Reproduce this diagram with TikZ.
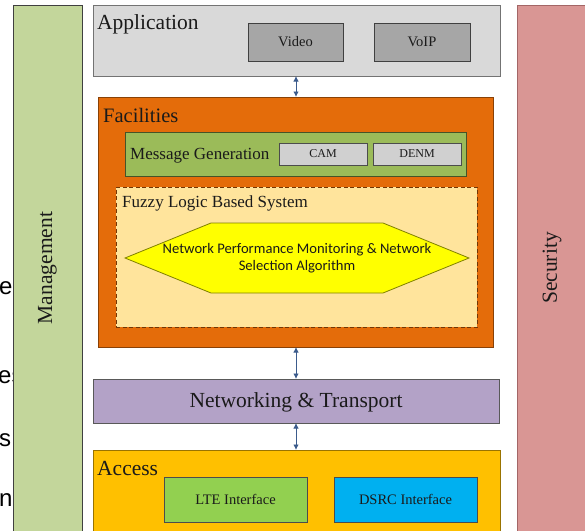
\documentclass[tikz,border=0pt]{standalone}
\usepackage{fontspec}
\usetikzlibrary{arrows.meta}
\setmainfont{Liberation Serif}
\newfontfamily\calib{Carlito}
\newfontfamily\arialf{Liberation Sans}
\definecolor{mgmtF}{HTML}{C3D69B}
\definecolor{secF}{HTML}{D99694}
\definecolor{appF}{HTML}{D9D9D9}
\definecolor{vidF}{HTML}{A6A6A6}
\definecolor{facF}{HTML}{E46C0A}
\definecolor{msgF}{HTML}{9BBB59}
\definecolor{camF}{HTML}{D0D0D0}
\definecolor{fuzF}{HTML}{FFE49C}
\definecolor{hexF}{HTML}{FFFF00}
\definecolor{netF}{HTML}{B3A2C7}
\definecolor{accF}{HTML}{FFC000}
\definecolor{lteF}{HTML}{92D050}
\definecolor{dsrcF}{HTML}{00B0F0}
\definecolor{arrC}{HTML}{3B5B8C}
\definecolor{txt}{HTML}{1A1A1A}
\tikzset{
  box/.style={draw, line width=0.8pt, anchor=north west, inner sep=0pt, outer sep=0pt},
  lbl/.style={inner sep=0pt, text=txt, anchor=base west},
  ctr/.style={inner sep=0pt, text=txt},
  arr/.style={draw=arrC, line width=0.9pt, {Latex[length=5.5pt,width=5.5pt]}-{Latex[length=5.5pt,width=5.5pt]}},
  frag/.style={inner sep=0pt, anchor=base west, font=\arialf\fontsize{24}{28}\selectfont, text=black}
}
\begin{document}
\begin{tikzpicture}[x=1pt,y=-1pt]
\useasboundingbox (0,0) rectangle (585,530);
\fill[white] (0,0) rectangle (585,530);
% fragments of page text at left edge
\node[frag] (f1) at (-1,294) {e};
\node[frag] (f2) at (-2,383) {es};
\node[frag] (f3) at (-1,446) {s};
\node[frag] (f4) at (-1,506) {n};
% side columns
\node[box, draw=black!75, fill=mgmtF, minimum width=69pt, minimum height=540pt] (mgmt) at (13,5) {};
\node[ctr, rotate=90, font=\fontsize{21.5}{24}\selectfont] (mgmtT) at (47.5,268) {Management};
\node[box, draw=black!60!red!60, fill=secF, minimum width=80pt, minimum height=540pt] (sec) at (517,5) {};
\node[ctr, rotate=90, font=\fontsize{21.5}{24}\selectfont] (secT) at (552,268) {Security};
% application
\node[box, draw=black!55, fill=appF, minimum width=407pt, minimum height=71pt] (app) at (93,5) {};
\node[lbl, font=\fontsize{21.5}{24}\selectfont] (appT) at (97,29) {Application};
\node[box, draw=black!75, fill=vidF, minimum width=95pt, minimum height=38pt] (video) at (248,23) {};
\node[ctr, font=\fontsize{14.5}{17}\selectfont] at (video.center) {Video};
\node[box, draw=black!75, fill=vidF, minimum width=96pt, minimum height=38pt] (voip) at (374,23) {};
\node[ctr, font=\fontsize{14.5}{17}\selectfont] at (voip.center) {VoIP};
% facilities
\node[box, draw=black!40!facF, fill=facF, minimum width=395pt, minimum height=250pt] (fac) at (98,97) {};
\node[lbl, font=\fontsize{20.5}{24}\selectfont] (facT) at (103,122) {Facilities};
\node[box, draw=black!55!msgF, fill=msgF, minimum width=341pt, minimum height=44pt] (msg) at (125,132) {};
\node[lbl, font=\fontsize{17}{20}\selectfont] (msgT) at (130,159) {Message Generation};
\node[box, draw=black!70, fill=camF, minimum width=88pt, minimum height=22pt] (cam) at (279,143) {};
\node[ctr, font=\fontsize{12}{14}\selectfont] at (cam.center) {CAM};
\node[box, draw=black!70, fill=camF, minimum width=88pt, minimum height=22pt] (denm) at (373,143) {};
\node[ctr, font=\fontsize{12}{14}\selectfont] at (denm.center) {DENM};
\node[box, draw=black!50!facF, dashed, dash pattern=on 4pt off 2.5pt, fill=fuzF, minimum width=361pt, minimum height=140pt] (fuz) at (116,187) {};
\node[lbl, font=\fontsize{17}{20}\selectfont] (fuzT) at (122,207) {Fuzzy Logic Based System};
\draw[draw=black!50!hexF, fill=hexF, line width=0.8pt] (125,258) -- (211,223) -- (383,223) -- (469,258) -- (383,293) -- (211,293) -- cycle;
\node[ctr, align=center, font=\calib\fontsize{14.6}{17.5}\selectfont] (hex) at (297,258) {Network Performance Monitoring \& Network\\Selection Algorithm};
% networking
\node[box, draw=black!65, fill=netF, minimum width=406pt, minimum height=44pt] (net) at (93,379) {};
\node[ctr, anchor=base, font=\fontsize{21.5}{24}\selectfont] (netT) at (296,407) {Networking \& Transport};
% access
\node[box, draw=black!40!accF, fill=accF, minimum width=407pt, minimum height=90pt] (acc) at (93,450) {};
\node[lbl, font=\fontsize{21.5}{24}\selectfont] (accT) at (97,475) {Access};
\node[box, draw=black!70, fill=lteF, minimum width=143pt, minimum height=45pt] (lte) at (164,477) {};
\node[ctr, font=\fontsize{14.5}{17}\selectfont] at (lte.center) {LTE Interface};
\node[box, draw=black!70, fill=dsrcF, minimum width=143pt, minimum height=45pt] (dsrc) at (334,477) {};
\node[ctr, font=\fontsize{14.5}{17}\selectfont] at (dsrc.center) {DSRC Interface};
% arrows
\coordinate (a1) at (296,0);
\draw[arr] (app.south -| a1) -- (fac.north -| a1);
\draw[arr] (fac.south -| a1) -- (net.north -| a1);
\draw[arr] (net.south -| a1) -- (acc.north -| a1);
\end{tikzpicture}
\end{document}
